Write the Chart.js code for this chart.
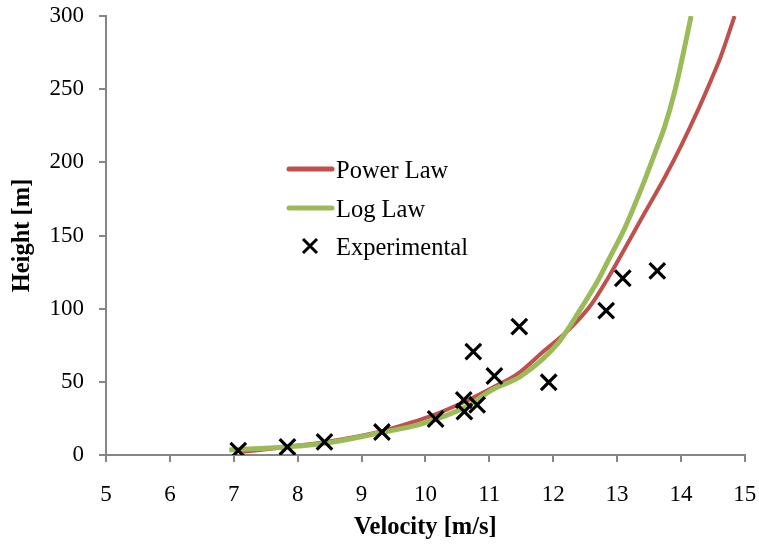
<!DOCTYPE html>
<html>
<head>
<meta charset="utf-8">
<script src="https://cdn.jsdelivr.net/npm/chart.js@4/dist/chart.umd.min.js"></script>
<style>
  html, body { margin: 0; padding: 0; background: #ffffff; }
  #wrap { width: 759px; height: 544px; position: relative; }
</style>
</head>
<body>
<div id="wrap"><canvas id="c" width="759" height="544"></canvas></div>
<script>
// ---- Data ----
const seriesNames = ["Power Law", "Log Law", "Experimental"];

const powerVelocity = [7.09, 7.82, 8.45, 9.27, 9.54, 10.05, 10.57, 11.04, 11.46, 11.82, 12.24, 12.60, 12.86, 13.12, 13.44, 13.75, 14.01, 14.27, 14.47, 14.63, 14.84];
const powerHeight   = [2.0, 5.5, 8.9, 15.7, 19.1, 26, 35.5, 45.8, 56, 69.7, 85.4, 103, 121, 141, 166, 190, 212, 236, 256, 273, 300];

const logVelocity = [6.93, 7.82, 8.45, 9.27, 9.95, 10.63, 11.04, 11.5, 12.08, 12.39, 12.71, 12.91, 13.12, 13.38, 13.59, 13.75, 13.90, 14.03, 14.16];
const logHeight   = [3.4, 5.5, 8.2, 15, 21.5, 32.8, 44.4, 54, 76.6, 97, 120, 137, 155, 182, 206, 225, 248, 273, 300];

const expVelocity = [7.07, 7.84, 8.42, 9.32, 10.16, 10.6, 10.61, 10.81, 11.08, 10.75, 11.47, 11.93, 12.83, 13.09, 13.63];
const expHeight   = [3, 5.5, 9, 15.7, 24.6, 37.6, 29.6, 34.2, 54, 70.6, 87.7, 49.7, 98.6, 120.8, 125.8];

const xTicks = [5, 6, 7, 8, 9, 10, 11, 12, 13, 14, 15];
const yTicks = [0, 50, 100, 150, 200, 250, 300];

const pair = (xs, ys) => xs.map((x, i) => ({ x: x, y: ys[i] }));

const FONT = "'Liberation Serif', 'Times New Roman', serif";
const AXIS_COLOR = '#868686';

// custom legend drawn inside the plot
const insideLegend = {
  id: 'insideLegend',
  afterDatasetsDraw(chart) {
    const ctx = chart.ctx;
    const rows = [169, 208, 246];
    ctx.save();
    chart.data.datasets.forEach((ds, i) => {
      const y = rows[i];
      if (ds.showLine) {
        ctx.beginPath();
        ctx.lineWidth = 5;
        ctx.lineCap = 'round';
        ctx.strokeStyle = ds.borderColor;
        ctx.moveTo(289, y);
        ctx.lineTo(332, y);
        ctx.stroke();
      } else {
        ctx.beginPath();
        ctx.lineWidth = 3;
        ctx.lineCap = 'butt';
        ctx.strokeStyle = '#000';
        const r = 7;
        ctx.moveTo(310 - r, y - r); ctx.lineTo(310 + r, y + r);
        ctx.moveTo(310 + r, y - r); ctx.lineTo(310 - r, y + r);
        ctx.stroke();
      }
      ctx.fillStyle = '#000';
      ctx.font = '24.5px ' + FONT;
      ctx.textBaseline = 'middle';
      ctx.textAlign = 'left';
      ctx.fillText(ds.label, 336, y + 3);
    });
    ctx.restore();
  }
};

new Chart(document.getElementById('c'), {
  type: 'scatter',
  data: {
    datasets: [
      {
        label: seriesNames[0],
        data: pair(powerVelocity, powerHeight),
        showLine: true,
        borderColor: '#C0504D',
        backgroundColor: '#C0504D',
        borderWidth: 4,
        pointRadius: 0,
        cubicInterpolationMode: 'monotone',
        order: 3
      },
      {
        label: seriesNames[1],
        data: pair(logVelocity, logHeight),
        showLine: true,
        borderColor: '#9BBB59',
        backgroundColor: '#9BBB59',
        borderWidth: 5,
        pointRadius: 0,
        cubicInterpolationMode: 'monotone',
        order: 2
      },
      {
        label: seriesNames[2],
        data: pair(expVelocity, expHeight),
        showLine: false,
        pointStyle: 'crossRot',
        pointRadius: 11,
        pointBorderWidth: 3.2,
        borderColor: '#000000',
        backgroundColor: '#000000',
        order: 1
      }
    ]
  },
  options: {
    responsive: false,
    animation: false,
    devicePixelRatio: 1,
    layout: { padding: { top: 16, right: 12, left: 0, bottom: 0 } },
    plugins: {
      legend: { display: false },
      tooltip: { enabled: false }
    },
    scales: {
      x: {
        type: 'linear',
        min: 5, max: 15,
        afterBuildTicks: (s) => { s.ticks = xTicks.map(v => ({ value: v })); },
        afterFit: (s) => { s.height = 89; s.paddingLeft = 0; s.paddingRight = 0; },
        grid: { drawOnChartArea: false, drawTicks: true, tickLength: 7, color: AXIS_COLOR, lineWidth: 2 },
        border: { color: AXIS_COLOR, width: 2 },
        ticks: { color: '#000', font: { family: FONT, size: 23 }, padding: 19, maxRotation: 0 },
        title: { display: true, text: 'Velocity [m/s]', color: '#000', font: { family: FONT, size: 24.5, weight: 'bold' }, padding: { top: 0, bottom: 2 } }
      },
      y: {
        type: 'linear',
        min: 0, max: 300,
        afterBuildTicks: (s) => { s.ticks = yTicks.map(v => ({ value: v })); },
        afterFit: (s) => { s.width = 106; s.paddingTop = 0; s.paddingBottom = 0; },
        grid: { drawOnChartArea: false, drawTicks: true, tickLength: 7, color: AXIS_COLOR, lineWidth: 2 },
        border: { color: AXIS_COLOR, width: 2 },
        ticks: { color: '#000', font: { family: FONT, size: 23 }, padding: 15 },
        title: { display: true, text: 'Height [m]', color: '#000', font: { family: FONT, size: 24.5, weight: 'bold' }, padding: { top: 8, bottom: 0 } }
      }
    }
  },
  plugins: [insideLegend]
});
</script>
</body>
</html>
